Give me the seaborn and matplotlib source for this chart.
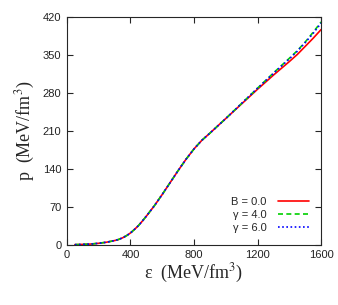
import pandas as pd
import matplotlib
matplotlib.use("Agg")
import matplotlib.pyplot as plt
import seaborn as sns

# ── Data ──────────────────────────────────────────────────
energy = [50, 100, 150, 200, 250, 300, 325, 350, 375, 400, 425, 450, 475, 500, 550, 600,
          650, 700, 750, 800, 850, 900, 1000, 1100, 1200, 1300, 1400, 1450, 1500, 1550, 1600]
p_b0 = [0.5, 1, 1.6, 3, 5, 8, 10, 13, 17, 22, 28.5, 35.5, 44, 53, 72, 93,
        115, 137, 158, 177, 193, 206, 233, 260, 287, 313, 338, 351, 366, 381, 397]
p_g4 = [0.5, 1, 1.6, 3, 5, 8, 10, 13, 17, 22, 28.5, 35.5, 44, 53, 72, 93,
        115, 137, 158, 177, 193, 206, 233, 261, 289, 317, 344, 358, 374, 392, 411]
p_g6 = [0.5, 1, 1.6, 3, 5, 8, 10, 13, 17, 22, 28.5, 35.5, 44, 53, 72, 93,
        115, 137, 158, 177, 193, 206, 233, 261, 289, 316, 343, 357, 373, 390, 409]
labels = ["B = 0.0", "γ = 4.0", "γ = 6.0"]
xticks = [0, 400, 800, 1200, 1600]
yticks = [0, 70, 140, 210, 280, 350, 420]

df = pd.concat([
    pd.DataFrame({"eps": energy, "p": vals, "case": lab})
    for vals, lab in zip([p_b0, p_g4, p_g6], labels)
])

sns.set_style("ticks")
plt.rcParams["font.family"] = ["Liberation Sans", "DejaVu Sans"]
plt.rcParams["mathtext.fontset"] = "stix"

fig = plt.figure(figsize=(3.38, 3.05), dpi=100)
ax = fig.add_axes([0.198, 0.197, 0.752, 0.747])

palette = {"B = 0.0": "#ff0000", "γ = 4.0": "#00d000", "γ = 6.0": "#0000ff"}
dashes = {"B = 0.0": "", "γ = 4.0": (3, 2), "γ = 6.0": (1, 1.5)}
sns.lineplot(data=df, x="eps", y="p", hue="case", style="case",
             palette=palette, dashes=dashes, linewidth=1.2, ax=ax)

ax.set_xlim(0, 1600)
ax.set_ylim(0, 420)
ax.set_xticks(xticks)
ax.set_yticks(yticks)
ax.tick_params(direction="in", top=True, right=True, length=4, width=0.8,
               labelsize=8, pad=4, labelcolor="#222222")
for s in ax.spines.values():
    s.set_linewidth(0.8)

serif = {"family": "Liberation Serif", "size": 13}
ax.set_xlabel(r"ε  (MeV/fm$^3$)", fontdict=serif, labelpad=1)
ax.set_ylabel(r"p  (MeV/fm$^3$)", fontdict=serif, labelpad=4)

leg = ax.legend(loc="lower right", frameon=False, markerfirst=False,
                fontsize=8, handlelength=2.8, handletextpad=1.0,
                labelspacing=0.25, borderaxespad=0.7, title=None)

fig.savefig("out.png", dpi=100)
